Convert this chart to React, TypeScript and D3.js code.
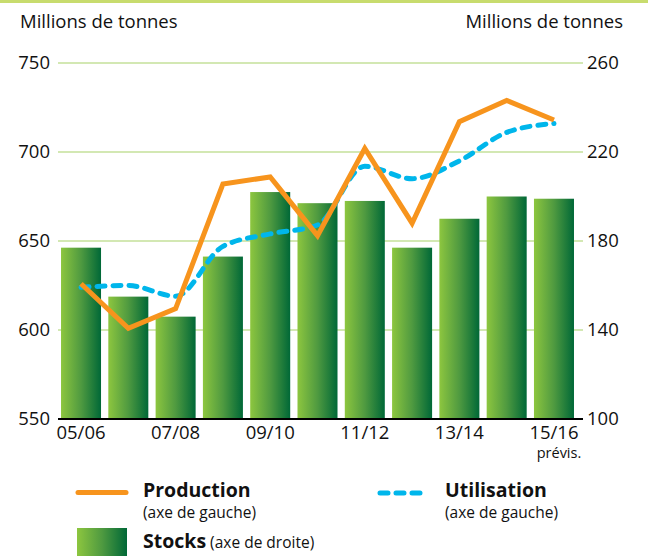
import React, { useEffect, useRef } from "react";
import * as d3 from "d3";

const seasons = ["05/06", "06/07", "07/08", "08/09", "09/10", "10/11", "11/12", "12/13", "13/14", "14/15", "15/16"];
const stocks = [177, 155, 146, 173, 202, 197, 198, 177, 190, 200, 199];
const production = [626, 601, 612, 682, 686, 653, 702, 660, 717, 729, 718];
const utilisation = [624, 625, 619, 647, 654, 659, 692, 685, 695, 711, 716];
const leftTicks = [550, 600, 650, 700, 750];
const rightTicks = [100, 140, 180, 220, 260];
const shownLabels = ["05/06", "07/08", "09/10", "11/12", "13/14", "15/16"];

const FONT = "'Open Sans', 'Noto Sans', sans-serif";

const App: React.FC = () => {
  const svgRef = useRef<SVGSVGElement>(null);

  useEffect(() => {
    if (!svgRef.current) return;
    const width = 648;
    const height = 560;
    const svg = d3.select(svgRef.current);
    svg.selectAll("*").remove();
    svg.attr("width", width).attr("height", height).style("font-family", FONT);

    const left = 58;
    const right = 583;
    const top = 63;
    const bottom = 419;

    const x = d3
      .scaleBand<string>()
      .domain(seasons)
      .range([57, 578])
      .paddingInner(0.154)
      .paddingOuter(0.085);
    const yL = d3.scaleLinear().domain([550, 750]).range([bottom, top]);
    const yR = d3.scaleLinear().domain([100, 260]).range([bottom, top]);

    const defs = svg.append("defs");
    const grad = defs
      .append("linearGradient")
      .attr("id", "barGrad")
      .attr("x1", "0%")
      .attr("x2", "100%")
      .attr("y1", "0%")
      .attr("y2", "0%");
    grad.append("stop").attr("offset", "0%").attr("stop-color", "#8dc63f");
    grad.append("stop").attr("offset", "50%").attr("stop-color", "#4f9a40");
    grad.append("stop").attr("offset", "100%").attr("stop-color", "#006837");

    // top band
    svg.append("rect").attr("x", 0).attr("y", 0).attr("width", width).attr("height", 3).attr("fill", "#c8dc6e");

    // axis titles
    svg
      .append("text")
      .attr("x", 20)
      .attr("y", 28)
      .style("font-size", "18.5px")
      .attr("fill", "#111")
      .text("Millions de tonnes");
    svg
      .append("text")
      .attr("x", 623)
      .attr("y", 28)
      .attr("text-anchor", "end")
      .style("font-size", "18.5px")
      .attr("fill", "#111")
      .text("Millions de tonnes");

    // gridlines
    svg
      .append("g")
      .selectAll("line")
      .data(leftTicks.filter((d) => d > 550))
      .enter()
      .append("line")
      .attr("x1", left)
      .attr("x2", right)
      .attr("y1", (d) => yL(d))
      .attr("y2", (d) => yL(d))
      .attr("stroke", "#c5e09a")
      .attr("stroke-width", 1.5);

    // left tick labels
    svg
      .append("g")
      .selectAll("text")
      .data(leftTicks)
      .enter()
      .append("text")
      .attr("x", 50)
      .attr("y", (d) => yL(d))
      .attr("dy", "0.35em")
      .attr("text-anchor", "end")
      .style("font-size", "18.5px")
      .attr("fill", "#111")
      .text((d) => d);

    // right tick labels
    svg
      .append("g")
      .selectAll("text")
      .data(rightTicks)
      .enter()
      .append("text")
      .attr("x", 587)
      .attr("y", (d) => yR(d))
      .attr("dy", "0.35em")
      .style("font-size", "18.5px")
      .attr("fill", "#111")
      .text((d) => d);

    // bars (stocks)
    svg
      .append("g")
      .selectAll("rect")
      .data(seasons)
      .enter()
      .append("rect")
      .attr("x", (d) => x(d)!)
      .attr("y", (d, i) => yR(stocks[i]))
      .attr("width", x.bandwidth())
      .attr("height", (d, i) => bottom - yR(stocks[i]))
      .attr("fill", "url(#barGrad)");

    // axis line
    svg
      .append("line")
      .attr("x1", left)
      .attr("x2", right)
      .attr("y1", bottom)
      .attr("y2", bottom)
      .attr("stroke", "#000")
      .attr("stroke-width", 2);

    // x labels
    const cx = (d: string) => x(d)! + x.bandwidth() / 2;
    svg
      .append("g")
      .selectAll("text")
      .data(shownLabels)
      .enter()
      .append("text")
      .attr("x", (d) => cx(d))
      .attr("y", 439)
      .attr("text-anchor", "middle")
      .style("font-size", "18.5px")
      .attr("fill", "#111")
      .text((d) => d);
    svg
      .append("text")
      .attr("x", cx("15/16") + 5)
      .attr("y", 458)
      .attr("text-anchor", "middle")
      .style("font-size", "14.5px")
      .attr("fill", "#111")
      .text("prévis.");

    // utilisation
    const utilLine = d3
      .line<number>()
      .x((d, i) => cx(seasons[i]))
      .y((d) => yL(d))
      .curve(d3.curveMonotoneX);
    svg
      .append("path")
      .attr("d", utilLine(utilisation))
      .attr("fill", "none")
      .attr("stroke", "#00b6eb")
      .attr("stroke-width", 5)
      .attr("stroke-linecap", "round")
      .attr("stroke-dasharray", "8 8");

    // production
    const prodLine = d3
      .line<number>()
      .x((d, i) => cx(seasons[i]))
      .y((d) => yL(d));
    svg
      .append("path")
      .attr("d", prodLine(production))
      .attr("fill", "none")
      .attr("stroke", "#f7941d")
      .attr("stroke-width", 5)
      .attr("stroke-linejoin", "miter");

    // legend
    const lg = svg.append("g");
    lg.append("line")
      .attr("x1", 78)
      .attr("x2", 126)
      .attr("y1", 492.5)
      .attr("y2", 492.5)
      .attr("stroke", "#f7941d")
      .attr("stroke-width", 5)
      .attr("stroke-linecap", "round");
    lg.append("text")
      .attr("x", 143)
      .attr("y", 497)
      .style("font-size", "19.5px")
      .style("font-weight", "bold")
      .attr("fill", "#111")
      .text("Production");
    lg.append("text")
      .attr("x", 143)
      .attr("y", 518)
      .style("font-size", "15.5px")
      .attr("fill", "#111")
      .text("(axe de gauche)");

    lg.append("line")
      .attr("x1", 380)
      .attr("x2", 428)
      .attr("y1", 493)
      .attr("y2", 493)
      .attr("stroke", "#00b6eb")
      .attr("stroke-width", 5)
      .attr("stroke-linecap", "round")
      .attr("stroke-dasharray", "8 8");
    lg.append("text")
      .attr("x", 445)
      .attr("y", 497)
      .style("font-size", "19.5px")
      .style("font-weight", "bold")
      .attr("fill", "#111")
      .text("Utilisation");
    lg.append("text")
      .attr("x", 445)
      .attr("y", 518)
      .style("font-size", "15.5px")
      .attr("fill", "#111")
      .text("(axe de gauche)");

    lg.append("rect")
      .attr("x", 77)
      .attr("y", 528)
      .attr("width", 50)
      .attr("height", 28)
      .attr("fill", "url(#barGrad)");
    const st = lg.append("text").attr("x", 143).attr("y", 548).attr("fill", "#111");
    st.append("tspan").style("font-size", "19.5px").style("font-weight", "bold").text("Stocks");
    st.append("tspan").style("font-size", "15.5px").text(" (axe de droite)");
  }, []);

  return <svg ref={svgRef} style={{ position: "absolute", left: 0, top: 0 }}></svg>;
};

export default App;
